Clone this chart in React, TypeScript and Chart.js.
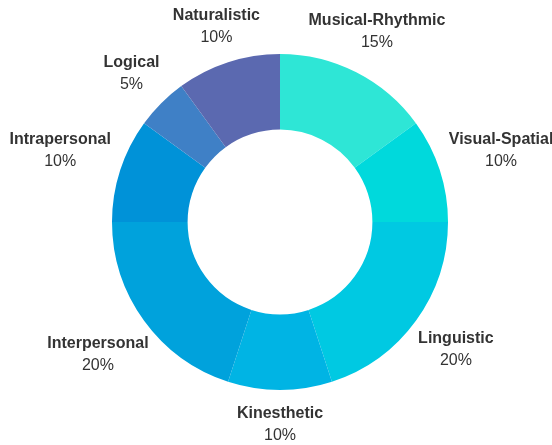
import React, { useEffect, useRef } from "react";
import { Chart, registerables } from "chart.js";

Chart.register(...registerables);

const categories = [
  "Musical-Rhythmic",
  "Visual-Spatial",
  "Linguistic",
  "Kinesthetic",
  "Interpersonal",
  "Intrapersonal",
  "Logical",
  "Naturalistic",
];
const percentages = [15, 10, 20, 10, 20, 10, 5, 10];
const sliceColors = [
  "#2ee6d6",
  "#00d9dc",
  "#00c9e2",
  "#00b4e4",
  "#00a2dc",
  "#0092d8",
  "#3f80c6",
  "#5b69b0",
];

const FONT = "'Liberation Sans', Arial, Helvetica, sans-serif";

const outsideLabels = {
  id: "outsideLabels",
  afterDatasetsDraw(chart: any) {
    const ctx = chart.ctx;
    const meta = chart.getDatasetMeta(0);
    const data = chart.data.datasets[0].data as number[];
    const total = data.reduce((a: number, b: number) => a + b, 0);
    ctx.save();
    ctx.fillStyle = "#333333";
    ctx.textAlign = "center";
    ctx.textBaseline = "middle";
    meta.data.forEach((arc: any, i: number) => {
      const p = arc.getProps(["x", "y", "startAngle", "endAngle", "outerRadius"], true);
      const mid = (p.startAngle + p.endAngle) / 2;
      const ux = Math.cos(mid);
      const uy = Math.sin(mid);
      const name = chart.data.labels[i] as string;
      const pct = Math.round((data[i] / total) * 100) + "%";
      ctx.font = `bold 16px ${FONT}`;
      const w1 = ctx.measureText(name).width;
      ctx.font = `16px ${FONT}`;
      const w2 = ctx.measureText(pct).width;
      const hw = Math.max(w1, w2) / 2;
      const hh = 19;
      const d = p.outerRadius + 16 + hh * Math.abs(uy) + 0.9 * hw * ux * ux;
      const cx = p.x + d * ux;
      const cy = p.y + d * uy;
      ctx.font = `bold 16px ${FONT}`;
      ctx.fillText(name, cx, cy - 11);
      ctx.font = `16px ${FONT}`;
      ctx.fillText(pct, cx, cy + 11);
    });
    ctx.restore();
  },
};

export default function App() {
  const ref = useRef<HTMLCanvasElement | null>(null);
  useEffect(() => {
    if (!ref.current) return;
    const chart = new Chart(ref.current, {
      type: "doughnut",
      data: {
        labels: categories,
        datasets: [
          {
            data: percentages,
            backgroundColor: sliceColors,
            borderWidth: 0,
          },
        ],
      },
      options: {
        responsive: false,
        animation: false,
        cutout: "55%",
        layout: { padding: { left: 108, right: 100, top: 54, bottom: 55 } },
        plugins: {
          legend: { display: false },
          tooltip: { enabled: false },
        },
      },
      plugins: [outsideLabels],
    });
    return () => chart.destroy();
  }, []);
  return (
    <div style={{ position: "absolute", left: 0, top: 0, width: 552, height: 445 }}>
      <canvas ref={ref} width={552} height={445} style={{ display: "block" }} />
    </div>
  );
}
